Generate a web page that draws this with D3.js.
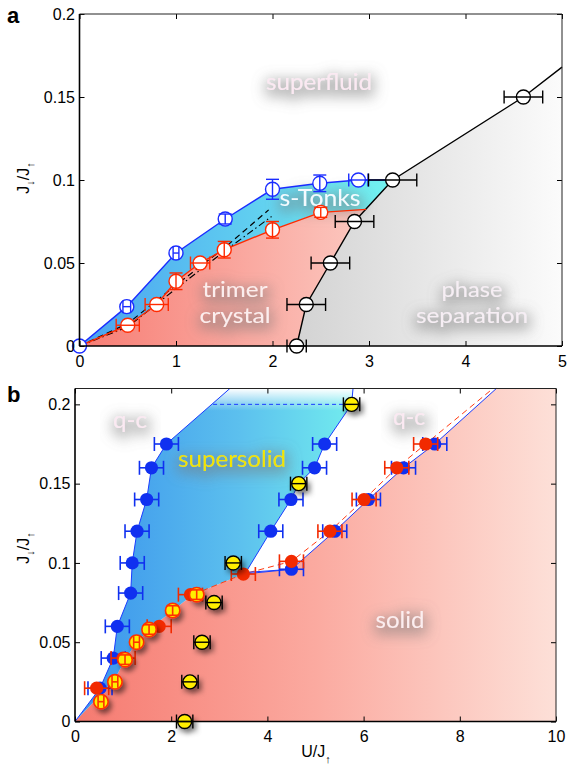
<!DOCTYPE html>
<html><head><meta charset="utf-8">
<script src="https://cdn.jsdelivr.net/npm/d3@7"></script>
<style>body{margin:0;background:#fff}svg{display:block}</style>
</head><body><svg id="c" width="567" height="767"></svg>
<script>
// ---------- Panel a data ----------
const aXTicks=[0,1,2,3,4,5];
const aYTicks=[0,0.05,0.1,0.15,0.2];
const aBlueU=[0,0.49,1.0,1.51,2.0,2.49,2.89];
const aBlueJ=[0,0.0237,0.056,0.0765,0.0944,0.098,0.1];
const aBlueXe=[0,0.04,0.03,0,0,0,0.1];
const aBlueYe=[0,0,0,0.003,0.006,0.005,0];
const aRedU=[0,0.5,0.8,1.0,1.25,1.5,2.0,2.5];
const aRedJ=[0,0.0125,0.025,0.039,0.05,0.058,0.07,0.0805];
const aRedXe=[0,0.12,0.12,0,0.1,0,0,0];
const aRedYe=[0,0,0,0.005,0,0.005,0.005,0.003];
const aRedEnd=[2.97,0.0823];
const aBlackU=[2.25,2.35,2.6,2.85,3.245,4.6];
const aBlackJ=[0,0.025,0.05,0.075,0.1,0.15];
const aBlackXe=[0.1,0.2,0.2,0.2,0.25,0.2];
const aBlackEnd=[5,0.168];
const aDashU=[0,0.5,1.0,1.5,1.96];
const aDashJ=[0,0.0135,0.0367,0.059,0.082];
const aDotU=[0,0.5,1.0,1.5,1.99];
const aDotJ=[0,0.0115,0.0345,0.057,0.078];
// ---------- Panel b data ----------
const bXTicks=[0,2,4,6,8,10];
const bYTicks=[0,0.05,0.1,0.15,0.2];
const bBlueLU=[0.52,0.795,0.88,1.157,1.19,1.29,1.49,1.59,1.9];
const bBlueLJ=[0.021,0.04,0.06,0.081,0.1,0.12,0.14,0.16,0.175];
const bBlueRU=[4.07,4.49,4.98,5.19];
const bBlueRJ=[0.12,0.14,0.16,0.175];
const bBlueSU=[4.5,5.4,6.1,6.83,7.48];
const bBlueSJ=[0.096,0.12,0.14,0.16,0.175];
const bRedU=[0.45,1.0,1.75,2.4,3.5,4.5,5.3,6.01,6.69,7.29];
const bRedJ=[0.021,0.04,0.06,0.08,0.093,0.101,0.12,0.14,0.16,0.175];
const bYelBU=[2.28,2.39,2.64,2.89,3.29,4.65,5.75];
const bYelBJ=[0,0.025,0.05,0.075,0.1,0.15,0.2];
const bYelRU=[0.54,0.83,1.04,1.28,1.54,2.03,2.53];
const bYelRJ=[0.0125,0.025,0.039,0.05,0.058,0.07,0.08];
const bYelRXe=[0.06,0.06,0,0.06,0,0,0];
const bYelRYe=[0,0,0.003,0,0.003,0.003,0.003];
// boundaries
const bLeftLineU=[0,0.52,0.795,0.88,1.157,1.19,1.29,1.49,1.59,1.9,3.22];
const bLeftLineJ=[0,0.021,0.04,0.06,0.081,0.1,0.12,0.14,0.16,0.175,0.21];
const bSsRightU=[3.55,4.07,4.49,4.65,4.98,5.19,5.75,5.78];
const bSsRightJ=[0.094,0.12,0.14,0.15,0.16,0.175,0.2,0.21];
const bSolidTopU=[0,0.5,0.85,1.04,1.28,1.54,2.03,2.45,3.5,4.5,5.4,6.1,6.83,7.48,8.76];
const bSolidTopJ=[0,0.016,0.028,0.039,0.05,0.058,0.07,0.08,0.093,0.096,0.12,0.14,0.16,0.175,0.21];
const bRedDashU=[2.45,3.5,4.5,5.3,6.01,6.69,7.29,8.69];
const bRedDashJ=[0.08,0.093,0.101,0.12,0.14,0.16,0.175,0.21];
const bDash02U=[2.87,5.75];
const bDash02J=[0.2,0.2];

const svg=d3.select('#c');
const defs=svg.append('defs');
function lg(id,x1,x2,stops,y1=0,y2=0){const g=defs.append('linearGradient').attr('id',id).attr('gradientUnits','userSpaceOnUse').attr('x1',x1).attr('x2',x2).attr('y1',y1).attr('y2',y2);stops.forEach(([o,c,op])=>g.append('stop').attr('offset',o).attr('stop-color',c).attr('stop-opacity',op==null?1:op));}
defs.html(defs.html()+`
<filter id="glow" x="-40%" y="-100%" width="180%" height="300%">
 <feMorphology in="SourceAlpha" operator="dilate" radius="2.5" result="d"/>
 <feGaussianBlur in="d" stdDeviation="7" result="b"/>
 <feOffset in="b" dx="1" dy="4" result="o"/>
 <feFlood flood-color="#777" flood-opacity="0.5"/>
 <feComposite in2="o" operator="in" result="s"/>
 <feMerge><feMergeNode in="s"/><feMergeNode in="SourceGraphic"/></feMerge>
</filter>
<filter id="psh" x="-100%" y="-100%" width="300%" height="300%">
 <feGaussianBlur in="SourceAlpha" stdDeviation="2.5" result="b"/>
 <feOffset in="b" dx="3" dy="4" result="o"/>
 <feFlood flood-color="#000" flood-opacity="0.5"/>
 <feComposite in2="o" operator="in" result="s"/>
 <feMerge><feMergeNode in="s"/><feMergeNode in="SourceGraphic"/></feMerge>
</filter>`);

const FONT="'Liberation Sans', Arial, sans-serif";
const LFONT="Lato, 'Open Sans', sans-serif";
const zip=(a,b)=>a.map((v,i)=>[v,b[i]]);

function frame(g,x,y,xt,yt){
  const [x0,x1]=x.range(),[y0,y1]=y.range();
  const ax=g.append('g').attr('transform',`translate(0,${y0})`).call(d3.axisBottom(x).tickValues(xt).tickSize(-5).tickPadding(9.5).tickFormat(d3.format('')));
  const ay=g.append('g').attr('transform',`translate(${x0},0)`).call(d3.axisLeft(y).tickValues(yt).tickSize(-5).tickPadding(4.5).tickFormat(d=>String(d)));
  const at=g.append('g').attr('transform',`translate(0,${y1})`).call(d3.axisTop(x).tickValues(xt).tickSize(-5).tickFormat(''));
  const ar=g.append('g').attr('transform',`translate(${x1},0)`).call(d3.axisRight(y).tickValues(yt).tickSize(-5).tickFormat(''));
  [ax,ay,at,ar].forEach(a=>{a.select('.domain').remove();a.selectAll('text').attr('font-family',FONT).attr('font-size',16).attr('fill','#000');a.selectAll('line').attr('stroke','#000')});
  g.append('line').attr('x1',x0).attr('x2',x1).attr('y1',y1).attr('y2',y1).attr('stroke','#222').attr('stroke-width',1);
  g.append('line').attr('x1',x1).attr('x2',x1).attr('y1',y1).attr('y2',y0).attr('stroke','#222').attr('stroke-width',1);
  g.append('line').attr('x1',x0).attr('x2',x1).attr('y1',y0).attr('y2',y0).attr('stroke','#000').attr('stroke-width',1.6);
  g.append('line').attr('x1',x0).attr('x2',x0).attr('y1',y1).attr('y2',y0).attr('stroke','#000').attr('stroke-width',1.6);
}
function errbars(g,x,y,U,J,XE,YE,color,cap,w){
  U.forEach((u,i)=>{
    const xe=XE?XE[i]:0, ye=YE?YE[i]:0;
    if(xe>0){
      g.append('line').attr('x1',x(u-xe)).attr('x2',x(u+xe)).attr('y1',y(J[i])).attr('y2',y(J[i])).attr('stroke',color).attr('stroke-width',w);
      [u-xe,u+xe].forEach(e=>g.append('line').attr('x1',x(e)).attr('x2',x(e)).attr('y1',y(J[i])-cap).attr('y2',y(J[i])+cap).attr('stroke',color).attr('stroke-width',w));
    }
    if(ye>0){
      g.append('line').attr('x1',x(u)).attr('x2',x(u)).attr('y1',y(J[i]-ye)).attr('y2',y(J[i]+ye)).attr('stroke',color).attr('stroke-width',w);
      [J[i]-ye,J[i]+ye].forEach(e=>g.append('line').attr('x1',x(u)-cap).attr('x2',x(u)+cap).attr('y1',y(e)).attr('y2',y(e)).attr('stroke',color).attr('stroke-width',w));
    }
  });
}
function label(g,x,y,txt,size,color,len){
  g.append('text').attr('x',x).attr('y',y).attr('text-anchor','middle').attr('font-family',LFONT).attr('font-size',size).attr('fill',color).attr('filter','url(#glow)')
   .attr('textLength',len).attr('lengthAdjust','spacingAndGlyphs').text(txt);
}
function ylab(g,cx,cy){
  const t=g.append('text').attr('transform',`translate(${cx},${cy}) rotate(-90)`).attr('text-anchor','middle').attr('font-family',FONT).attr('font-size',16);
  t.append('tspan').text('J');
  t.append('tspan').attr('font-size',11).attr('dy',5).text('↓');
  t.append('tspan').attr('dy',-5).text('/J');
  t.append('tspan').attr('font-size',11).attr('dy',5).text('↑');
}

// ================= Panel a =================
const xa=d3.scaleLinear([0,5],[79.5,562]);
const ya=d3.scaleLinear([0,0.2],[346,14]);
const la=d3.line().x(d=>xa(d[0])).y(d=>ya(d[1]));
lg('gRedA',xa(0),xa(3),[[0,'#f77c73'],[1,'#fcc9c1']]);
lg('gBlueA',xa(0),xa(3.2),[[0,'#4aa2f0'],[1,'#72f2f0']]);
lg('gGreyA',xa(2.3),xa(5),[[0,'#d4d4d4'],[1,'#fbfbfb']]);
const ga=svg.append('g');
const blackPts=zip(aBlackU,aBlackJ);
const redPts=zip(aRedU,aRedJ).concat([aRedEnd]);
const bluePts=zip(aBlueU,aBlueJ).concat([[aBlackU[4],aBlackJ[4]]]);
ga.append('path').attr('d',la(blackPts.concat([aBlackEnd,[5,0]]))+'Z').attr('fill','url(#gGreyA)');
ga.append('path').attr('d',la(redPts.concat(blackPts.slice(0,4).reverse()))+'Z').attr('fill','url(#gRedA)');
ga.append('path').attr('d',la(bluePts.concat(redPts.slice().reverse()))+'Z').attr('fill','url(#gBlueA)');
label(ga,319,90,'superfluid',23.5,'#fbe9f2',106);
label(ga,320,206,'s-Tonks',23.5,'#f4fafe',81);
label(ga,235,297,'trimer',21.5,'#fbeeee',65);
label(ga,235,323,'crystal',21.5,'#fbeeee',71);
label(ga,472,297,'phase',21.5,'#f6eef4',61);
label(ga,472,323,'separation',21.5,'#f6eef4',112);
ga.append('path').attr('d',la(zip(aDashU,aDashJ))).attr('fill','none').attr('stroke','#000').attr('stroke-width',1.2).attr('stroke-dasharray','6,4');
ga.append('path').attr('d',la(zip(aDotU,aDotJ))).attr('fill','none').attr('stroke','#000').attr('stroke-width',1.1).attr('stroke-dasharray','7,3,1.5,3');
ga.append('path').attr('d',la(blackPts.concat([aBlackEnd]))).attr('fill','none').attr('stroke','#000').attr('stroke-width',1.4);
ga.append('path').attr('d',la(redPts)).attr('fill','none').attr('stroke','#ff2a00').attr('stroke-width',1.4);
ga.append('path').attr('d',la(bluePts)).attr('fill','none').attr('stroke','#1a2cff').attr('stroke-width',1.4);
function openMarkers(g,x,y,U,J,XE,YE,color,skip0){
  U.forEach((u,i)=>{ if(skip0&&i===0)return;
    g.append('circle').attr('cx',x(u)).attr('cy',y(J[i])).attr('r',7).attr('fill','#fff').attr('stroke',color).attr('stroke-width',1.4);});
  errbars(g,x,y,U,J,XE,YE,color,6.5,1.4);
}
openMarkers(ga,xa,ya,aRedU,aRedJ,aRedXe,aRedYe,'#ff2a00',true);
openMarkers(ga,xa,ya,aBlueU,aBlueJ,aBlueXe,aBlueYe,'#1a2cff',false);
openMarkers(ga,xa,ya,aBlackU,aBlackJ,aBlackXe,null,'#000',false);
frame(ga,xa,ya,aXTicks,aYTicks);
ylab(ga,29,178);
svg.append('text').attr('x',7).attr('y',23).attr('font-family',FONT).attr('font-weight','bold').attr('font-size',22).text('a');

// ================= Panel b =================
const xb=d3.scaleLinear([0,10],[75,556]);
const yb=d3.scaleLinear([0,0.21],[721.5,388.5]);
const lb=d3.line().x(d=>xb(d[0])).y(d=>yb(d[1]));
lg('gRedB',xb(0),xb(10),[[0,'#f67a70'],[0.5,'#fbaaa0'],[1,'#fde0d8']]);
lg('gBlueB',xb(0.5),xb(5.8),[[0,'#3e98ec'],[0.55,'#5cc0ee'],[1,'#72ecee']]);
lg('gFadeB',0,0,[[0,'#fff',1],[1,'#fff',0]],yb(0.21),yb(0.196));
const gb=svg.append('g');
const solidTop=zip(bSolidTopU,bSolidTopJ);
const leftLine=zip(bLeftLineU,bLeftLineJ);
const ssRight=zip(bSsRightU,bSsRightJ);
gb.append('path').attr('d',lb(solidTop.concat([[10,0.21],[10,0]]))+'Z').attr('fill','url(#gRedB)');
const ssPoly=leftLine.concat(ssRight.slice().reverse()).concat(solidTop.slice(0,9).reverse());
gb.append('path').attr('d',lb(ssPoly)+'Z').attr('fill','url(#gBlueB)');
gb.append('path').attr('d',lb(ssPoly)+'Z').attr('fill','url(#gFadeB)');
label(gb,130,428,'q-c',23.5,'#fbe9f2',34);
label(gb,409,425,'q-c',23.5,'#fbe9f2',32);
label(gb,232,467,'supersolid',23.5,'#f2e400',108);
label(gb,400,628,'solid',23.5,'#fbeef0',49);
gb.append('path').attr('d',lb(zip(bDash02U,bDash02J))).attr('fill','none').attr('stroke','#1a3cff').attr('stroke-width',1).attr('stroke-dasharray','4,3');
gb.append('path').attr('d',lb(leftLine)).attr('fill','none').attr('stroke','#1a3cff').attr('stroke-width',1);
gb.append('path').attr('d',lb(ssRight)).attr('fill','none').attr('stroke','#1a3cff').attr('stroke-width',1);
gb.append('path').attr('d',lb(zip(bRedDashU,bRedDashJ))).attr('fill','none').attr('stroke','#ff3a10').attr('stroke-width',1).attr('stroke-dasharray','6,4');
gb.append('path').attr('d',lb(solidTop.slice(8))).attr('fill','none').attr('stroke','#1a3cff').attr('stroke-width',1);
gb.append('path').attr('d',lb([[bSsRightU[0],bSsRightJ[0]],[bSolidTopU[9],bSolidTopJ[9]]])).attr('fill','none').attr('stroke','#1a3cff').attr('stroke-width',1);
function filled(g,U,J,XE,color,stroke,cap){
  const gg=g.append('g');
  errbars(gg,xb,yb,U,J,XE,null,color,cap,1.6);
  U.forEach((u,i)=>gg.append('circle').attr('cx',xb(u)).attr('cy',yb(J[i])).attr('r',6.6).attr('fill',color).attr('stroke',stroke||'none'));
}
const e25=n=>Array(n).fill(0.25);
filled(gb,bBlueLU,bBlueLJ,e25(bBlueLU.length),'#1030f0',null,7);
filled(gb,bBlueRU,bBlueRJ,e25(bBlueRU.length),'#1030f0',null,7);
filled(gb,bBlueSU,bBlueSJ,e25(bBlueSU.length),'#1030f0',null,7);
filled(gb,bRedU,bRedJ,e25(bRedU.length),'#f22a00',null,7);
bYelRU.forEach((u,i)=>{
  const g=gb.append('g').attr('filter','url(#psh)');
  g.append('circle').attr('cx',xb(u)).attr('cy',yb(bYelRJ[i])).attr('r',7.2).attr('fill','#ffee00').attr('stroke','#ff3000').attr('stroke-width',1.6);
  errbars(g,xb,yb,[u],[bYelRJ[i]],[bYelRXe[i]],[bYelRYe[i]],'#ff3000',6,1.6);
});
bYelBU.forEach((u,i)=>{
  const g=gb.append('g').attr('filter','url(#psh)');
  g.append('circle').attr('cx',xb(u)).attr('cy',yb(bYelBJ[i])).attr('r',7).attr('fill','#ffee00').attr('stroke','#000').attr('stroke-width',1.4);
  errbars(g,xb,yb,[u],[bYelBJ[i]],[0.17],null,'#000',7,1.4);
});
frame(gb,xb,yb,bXTicks,bYTicks);
ylab(gb,29,548);
const xl=gb.append('text').attr('x',316).attr('y',757).attr('text-anchor','middle').attr('font-family',FONT).attr('font-size',16);
xl.append('tspan').text('U/J');
xl.append('tspan').attr('font-size',11).attr('dy',6).text('↑');
svg.append('text').attr('x',7).attr('y',402).attr('font-family',FONT).attr('font-weight','bold').attr('font-size',22).text('b');
</script></body></html>
